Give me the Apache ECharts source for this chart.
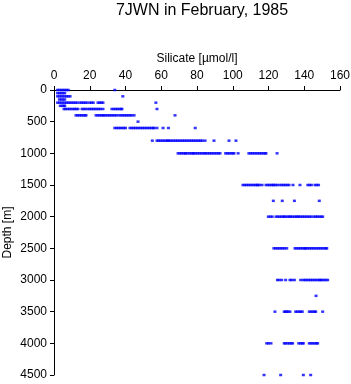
<html><head><meta charset='utf-8'>
<script src='https://cdn.jsdelivr.net/npm/echarts@6/dist/echarts.min.js'></script>
<style>html,body{margin:0;padding:0;background:#fff}#chart{width:351px;height:384px}</style>
</head><body><div id='chart'></div><script>
// depth of each sampling level [m]
var depths = [0, 50, 100, 150, 200, 250, 300, 400, 500, 600, 800, 1000, 1500, 1750, 2000, 2500, 3000, 3250, 3500, 4000, 4500];
// silicate values read at each level [umol/l]
var si0 = [2, 3, 4, 5, 6, 7, 8, 34];
var si50 = [2, 3, 4, 5, 6];
var si100 = [2, 3, 4, 5, 6, 7, 8, 9, 38.5];
var si150 = [3, 4, 5, 6];
var si200 = [2, 3, 4, 5, 6, 7, 8, 9, 10, 11, 12, 13, 14.5, 15.5, 16.5, 17.5, 18.5, 20, 21, 22, 24.6, 25.5, 26.5, 27.4, 57];
var si250 = [3.5, 4.5, 5.5, 6];
var si300 = [5.6, 6.5, 7.5, 8.5, 9.5, 10.6, 11.5, 12.5, 13.4, 15.7, 16.7, 17.7, 19, 20, 21, 22, 23, 24, 25, 26, 27.4, 32.4, 33.5, 34.5, 35.5, 36.5, 37.5, 38, 57.6];
var si400 = [12.3, 13.3, 14.3, 15.3, 16.3, 17.3, 17.9, 23.5, 24.5, 25.5, 26.5, 27.4, 28, 29, 30, 31, 32, 33, 34, 35, 36.4, 37.5, 38.5, 39.5, 40.5, 41.5, 42.5, 43.5, 44.8, 67.7];
var si500 = [47];
var si600 = [34, 35, 36, 37, 38, 39, 40, 42.5, 43.5, 44.5, 45.5, 46.5, 47.5, 48.5, 49.5, 50.5, 51.5, 52.5, 53.5, 54.5, 55.5, 56, 57.6, 61, 64, 79];
var si800 = [55, 57.6, 58.5, 59.5, 60.5, 61.5, 62.5, 63.5, 64, 65, 66, 67, 68, 69, 70, 71, 72, 73, 74, 75, 76, 77, 78, 79, 80, 81, 82, 83, 84.5, 89.5, 97.9, 101.8];
var si1000 = [69.4, 70.4, 71.4, 72.4, 73.4, 73.8, 75, 76, 77, 77.8, 78.3, 79.3, 80.3, 81.3, 82.3, 83.3, 84.3, 85, 86, 87, 88, 89, 90, 91, 92, 92.9, 96, 97, 98, 99, 100, 100.7, 103, 109, 110, 111, 112, 113, 114, 115, 116, 117, 118, 118.6, 124.8];
var si1500 = [105.7, 106.7, 107.7, 108.7, 109.7, 110.7, 111.7, 112.7, 113.6, 114, 115, 116.4, 118.6, 119.6, 120.6, 121.6, 122.5, 123, 124, 125, 126.4, 127.5, 128.5, 129.5, 130.5, 131.5, 133.7, 137.6, 142, 143, 144, 146, 147, 148];
var si1750 = [122.7, 127.7, 134.5, 148.4];
var si2000 = [119.9, 121, 122.1, 124.2, 125.2, 126.2, 127.2, 128.3, 128.8, 129.8, 130.8, 131.8, 132.4, 133.5, 134.5, 135.5, 136.3, 137, 138, 139, 140, 141, 142, 143, 144, 145.5, 146.4, 147.4, 148.4, 149.4, 150.3];
var si2500 = [123, 124, 125, 126, 127, 128, 129, 130.2, 134.8, 135.8, 136.8, 137.8, 138.8, 139.8, 140.4, 141, 142, 143, 144, 145, 146, 147, 148, 149, 150, 151, 152, 152.6];
var si3000 = [125, 126, 127.4, 129.6, 132, 133, 134.5, 138, 139.5, 140.5, 141.5, 142.5, 143.5, 144.5, 145.5, 146.5, 147.5, 148.5, 149.2, 150.1, 151.1, 152.1, 153.1];
var si3250 = [146.6];
var si3500 = [123.6, 128.8, 129.5, 130.2, 131, 132, 135.2, 136.1, 137.2, 138, 138.9, 142.8, 143.8, 144.8, 145.8, 146.4, 150.3];
var si4000 = [119, 120, 121.4, 128.8, 129.6, 130.7, 131.7, 132.7, 133.5, 136.9, 137.9, 138.9, 139.5, 142.8, 143.8, 144.8, 145.8, 146.8, 147.5];
var si4500 = [117.5, 126.8, 139.5, 143.6];

var levels = [si0, si50, si100, si150, si200, si250, si300, si400, si500, si600, si800, si1000,
  si1500, si1750, si2000, si2500, si3000, si3250, si3500, si4000, si4500];

var points = [];
levels.forEach(function (vals, i) {
  vals.forEach(function (v) { points.push([v, depths[i]]); });
});

var font = 'Liberation Sans, Arial, sans-serif';
var chart = echarts.init(document.getElementById('chart'), null, {renderer: 'canvas'});
chart.setOption({
  animation: false,
  title: {
    text: '7JWN in February, 1985',
    left: 197, top: -2, textAlign: 'center',
    textStyle: {fontFamily: font, fontSize: 16, fontWeight: 'normal', color: '#000'}
  },
  grid: {left: 54, top: 90, right: 11, bottom: 9, containLabel: false, outerBoundsMode: 'none'},
  xAxis: {
    type: 'value', position: 'top', min: 0, max: 160, interval: 20,
    name: 'Silicate [µmol/l]', nameLocation: 'middle', nameGap: 25,
    nameTextStyle: {fontFamily: font, fontSize: 12, color: '#000'},
    axisLine: {lineStyle: {color: '#000', width: 1}},
    axisTick: {show: true, length: 4, lineStyle: {color: '#000'}},
    axisLabel: {fontFamily: font, fontSize: 12, color: '#000', margin: 8},
    splitLine: {show: false}
  },
  yAxis: {
    type: 'value', inverse: true, min: 0, max: 4500, interval: 500,
    name: 'Depth [m]', nameLocation: 'middle', nameGap: 40, nameMoveOverlap: false,
    nameTextStyle: {fontFamily: font, fontSize: 12, color: '#000'},
    axisLine: {show: true, lineStyle: {color: '#000', width: 1}},
    axisTick: {show: true, length: 4, lineStyle: {color: '#000'}},
    axisLabel: {fontFamily: font, fontSize: 12, color: '#000', margin: 7,
      formatter: function (v) { return String(v); }},
    splitLine: {show: false}
  },
  series: [{
    type: 'scatter',
    data: points,
    symbol: 'rect',
    symbolSize: [3, 2.5],
    itemStyle: {color: '#0000ff'},
    clip: false
  }]
});
</script></body></html>
